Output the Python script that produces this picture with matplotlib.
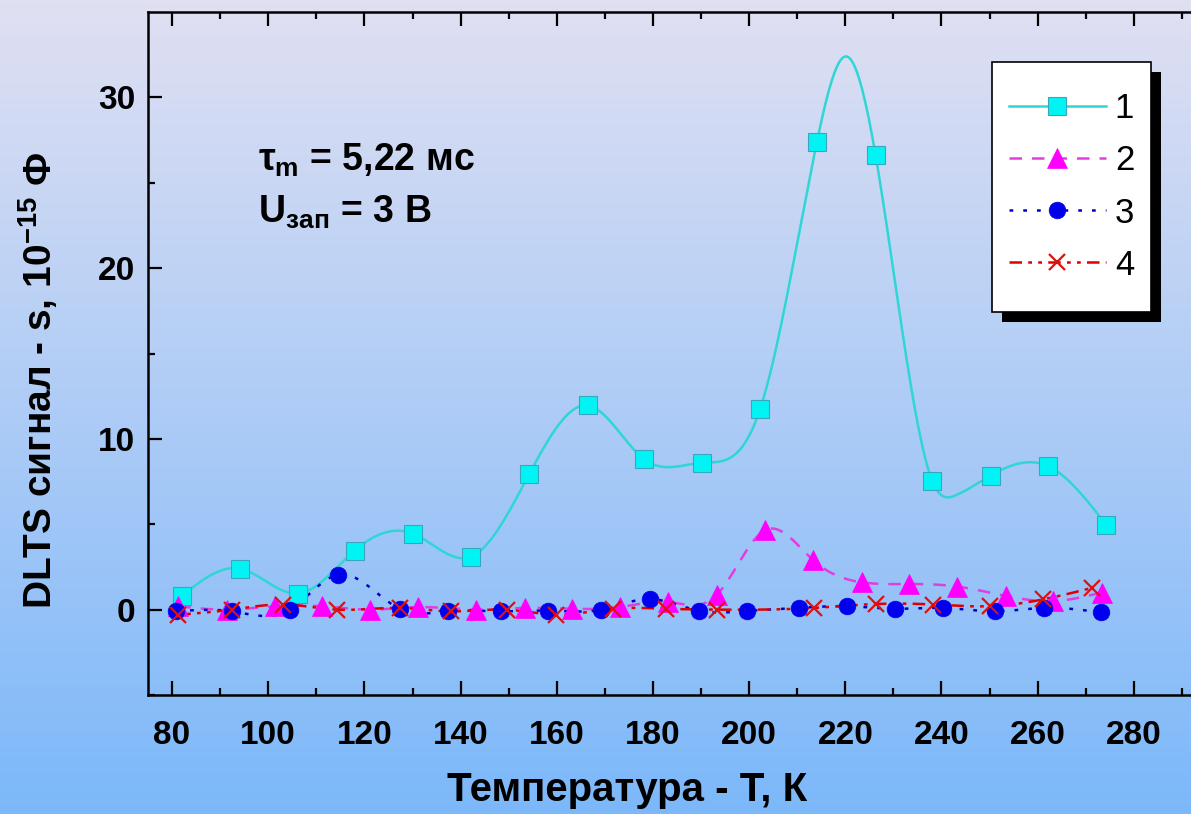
import matplotlib
matplotlib.use("Agg")
import matplotlib.pyplot as plt
import numpy as np
from matplotlib.patches import Rectangle

# --- data (T in K, signal in 1e-15 F) ---
T1 = [82.1, 94.1, 106.2, 118.0, 130.1, 142.2, 154.3, 166.4, 178.2, 190.1, 202.3,
      214.1, 226.3, 238.1, 250.2, 262.2, 274.3]
S1 = [0.82, 2.4, 0.94, 3.46, 4.45, 3.1, 7.95, 11.96, 8.8, 8.6, 11.76,
      27.4, 26.6, 7.52, 7.85, 8.4, 4.94]
# extra points on curve 1 without markers (peak top and valley)
T1_LINE = [220.2, 243.0]
S1_LINE = [32.4, 6.7]

T2 = [81.3, 91.5, 101.4, 111.1, 121.2, 131.2, 143.3, 153.4, 163.1, 173.1, 183.2,
      193.3, 203.3, 213.3, 223.4, 233.3, 243.3, 253.4, 263.2, 273.3]
S2 = [0.2, 0.0, 0.2, 0.2, 0.0, 0.15, 0.0, 0.1, 0.05, 0.15, 0.45,
      0.87, 4.65, 2.9, 1.6, 1.5, 1.35, 0.8, 0.5, 1.0]

T3 = [80.9, 92.4, 104.5, 114.6, 127.4, 137.4, 148.5, 158.2, 169.2, 179.3, 189.5,
      199.5, 210.4, 220.4, 230.3, 240.3, 251.2, 261.3, 273.1]
S3 = [-0.1, -0.1, 0.0, 2.05, 0.04, -0.1, -0.1, -0.06, 0.0, 0.62, -0.06,
      -0.08, 0.1, 0.2, 0.05, 0.1, -0.1, 0.1, -0.16]

T4 = [81.3, 92.4, 103.1, 114.2, 127.4, 138.1, 149.6, 159.9, 171.6, 182.8, 193.4,
      213.5, 226.4, 238.3, 250.1, 261.1, 271.3]
S4 = [-0.3, 0.0, 0.3, 0.0, 0.1, -0.1, 0.0, -0.3, 0.05, 0.05, 0.0,
      0.1, 0.33, 0.3, 0.2, 0.6, 1.27]

LABELS = ["1", "2", "3", "4"]

plt.rcParams.update({
    "font.family": ["Liberation Sans", "DejaVu Sans"],
    "mathtext.fontset": "custom",
    "mathtext.rm": "Liberation Sans:bold",
    "mathtext.it": "Liberation Sans:bold",
    "mathtext.bf": "Liberation Sans:bold",
})


def smooth(x, y, n=600):
    # natural cubic spline, only used to draw the connecting curve
    x = np.asarray(x, float); y = np.asarray(y, float)
    o = np.argsort(x); x, y = x[o], y[o]
    h = np.diff(x); m = len(x)
    A = np.zeros((m, m)); r = np.zeros(m)
    A[0, 0] = A[-1, -1] = 1
    for i in range(1, m - 1):
        A[i, i - 1] = h[i - 1]; A[i, i] = 2 * (h[i - 1] + h[i]); A[i, i + 1] = h[i]
        r[i] = 3 * ((y[i + 1] - y[i]) / h[i] - (y[i] - y[i - 1]) / h[i - 1])
    c = np.linalg.solve(A, r)
    b = (y[1:] - y[:-1]) / h - h * (2 * c[:-1] + c[1:]) / 3
    d = (c[1:] - c[:-1]) / (3 * h)
    xs = np.linspace(x[0], x[-1], n)
    k = np.clip(np.searchsorted(x, xs) - 1, 0, m - 2)
    dx = xs - x[k]
    return xs, y[k] + b[k] * dx + c[k] * dx ** 2 + d[k] * dx ** 3


W, H = 1191, 814
fig = plt.figure(figsize=(W / 100, H / 100), dpi=100)

# gradient background
bg = fig.add_axes([0, 0, 1, 1], zorder=-10)
top = np.array([224, 224, 242]) / 255
bot = np.array([124, 184, 250]) / 255
t = np.linspace(0, 1, 256)[:, None]
grad = top[None, :] * (1 - t) + bot[None, :] * t
bg.imshow(grad[:, None, :], aspect="auto", extent=[0, 1, 0, 1])
bg.axis("off")

ax = fig.add_axes([148 / W, (H - 695) / H, 1058 / W, 683 / H])
ax.set_facecolor("none")

series = [
    (T1 + T1_LINE, S1 + S1_LINE, T1, S1, dict(color="#2fd6d6", ls="-", lw=1.8),
     dict(marker="s", ms=13, mfc="#00f4f4", mec="#3aa6bd", mew=0.8)),
    (T2, S2, T2, S2, dict(color="#e03ee0", ls=(0, (5, 4)), lw=1.8),
     dict(marker="^", ms=14, mfc="#ff00ff", mec="#ff00ff", mew=0.5)),
    (T3, S3, T3, S3, dict(color="#0000cc", ls=(0, (1.5, 4)), lw=1.8),
     dict(marker="o", ms=12, mfc="#0000ee", mec="#0000ee", mew=0.5)),
    (T4, S4, T4, S4, dict(color="#e00000", ls=(0, (5, 2.5, 1.5, 2.5, 1.5, 2.5)), lw=1.8),
     dict(marker="x", ms=12, mfc="none", mec="#e01010", mew=1.6)),
]

handles = []
for (lx, ly, x, y, lk, mk), lab in zip(series, LABELS):
    xs, ys = smooth(lx, ly)
    ax.plot(xs, ys, **lk, zorder=2)
    ax.plot(x, y, ls="none", **mk, zorder=3)
    h, = ax.plot([], [], **lk, **mk, label=lab)
    handles.append(h)

ax.set_xlim(75, 295)
ax.set_ylim(-5, 35)
ax.set_xticks(np.arange(80, 300, 20))
ax.set_xticks(np.arange(90, 300, 20), minor=True)
ax.set_yticks([0, 10, 20, 30])
ax.set_yticks([-5, 5, 15, 25], minor=True)
ax.tick_params(which="both", direction="in", width=1.6, top=True, right=False,
               labelsize=24)
ax.tick_params(which="major", length=10)
ax.tick_params(which="minor", length=5)
ax.tick_params(axis="x", pad=18)
ax.tick_params(axis="y", pad=9)
for lbl in ax.get_xticklabels() + ax.get_yticklabels():
    lbl.set_fontweight("bold")
for s in ["left", "bottom", "top"]:
    ax.spines[s].set_linewidth(1.8)
ax.spines["right"].set_visible(False)

ax.set_xlabel("Температура - Т, К", fontsize=29, fontweight="bold")
ax.xaxis.set_label_coords(0.453, -0.112)
ax.set_ylabel("DLTS сигнал - s, 10$^{-15}$ Ф", fontsize=28, fontweight="bold")
ax.yaxis.set_label_coords(-0.083, 0.46)

ax.text(258 / W, (H - 160) / H, r"$\tau_m$ = 5,22 мс", transform=fig.transFigure,
        fontsize=27, fontweight="bold", va="center", ha="left")
ax.text(258 / W, (H - 212) / H, r"U$_{зап}$ = 3 В", transform=fig.transFigure,
        fontsize=27, fontweight="bold", va="center", ha="left")

# legend box with hard black shadow
bx0, by0, bx1, by1 = 992, 62, 1151, 312
ax.add_artist(Rectangle(((bx0 + 10) / W, (H - by1 - 10) / H), (bx1 - bx0) / W,
                        (by1 - by0) / H, transform=fig.transFigure, facecolor="black",
                        edgecolor="none", zorder=8, clip_on=False))
ax.add_artist(Rectangle((bx0 / W, (H - by1) / H), (bx1 - bx0) / W, (by1 - by0) / H,
                        transform=fig.transFigure, facecolor="white", edgecolor="black",
                        lw=1.2, zorder=9, clip_on=False))
leg = ax.legend(handles=handles, loc="center",
                bbox_to_anchor=((bx0 + bx1) / 2 / W, (H - (by0 + by1) / 2) / H),
                bbox_transform=fig.transFigure,
                prop={"family": "Liberation Sans", "size": 25},
                handlelength=2.8, handletextpad=0.25, labelspacing=0.55,
                borderpad=0.3, frameon=False, borderaxespad=0)
leg.set_zorder(10)

fig.savefig("out.png", dpi=100)
